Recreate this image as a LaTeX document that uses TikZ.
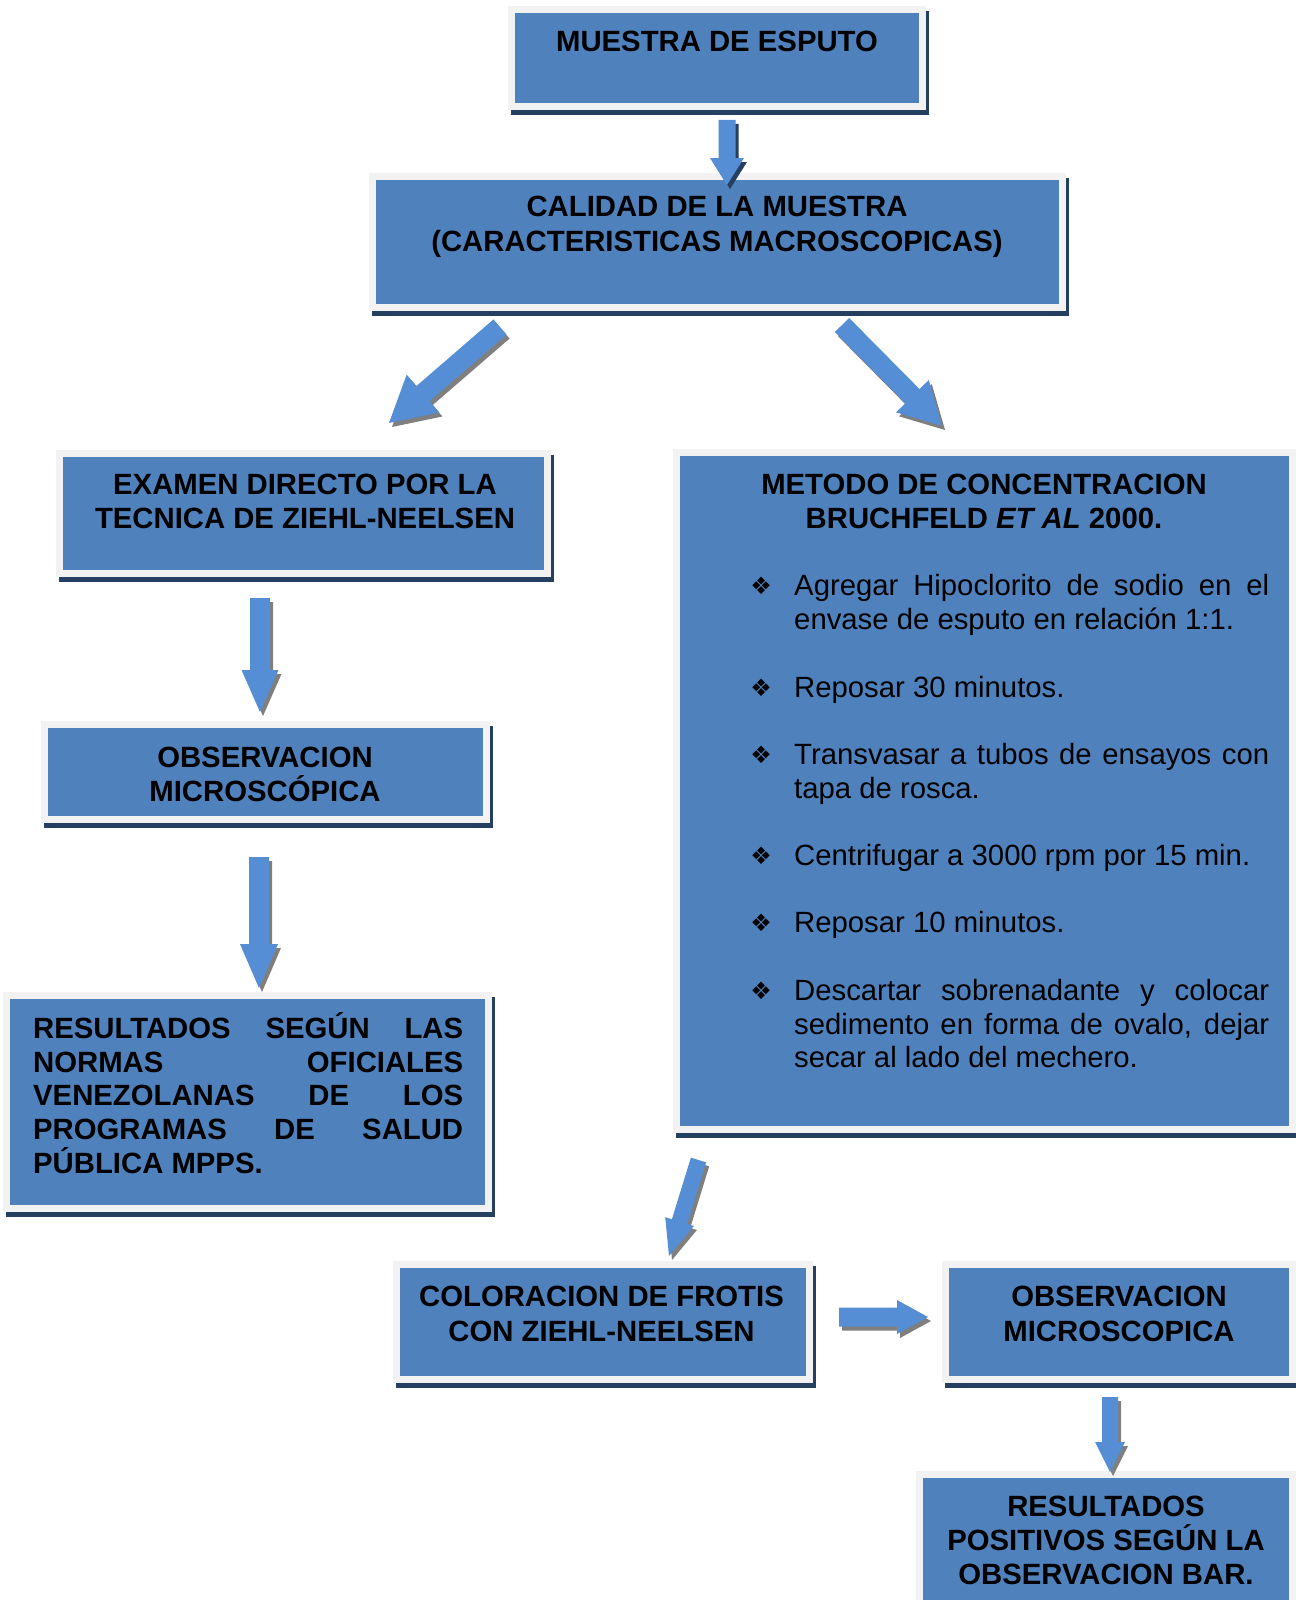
\documentclass[tikz,border=0pt]{standalone}
\usepackage{fontspec}
\setmainfont{Liberation Sans}
\newfontfamily\symf{DejaVu Sans}
\usetikzlibrary{calc}
\definecolor{boxblue}{HTML}{4F81BD}
\definecolor{framegray}{HTML}{F2F2F2}
\definecolor{shadowblue}{HTML}{243F60}
\definecolor{arrowblue}{HTML}{558ED5}
\definecolor{arrowshadow}{HTML}{7F7F7F}
\newcommand\hdfont{\fontsize{29.3}{34}\selectfont\bfseries}
\newcommand\bdfont{\fontsize{29.3}{34}\selectfont}
\newcommand\barrowpath[6]{%
  \path ($(#2)!#5pt!(#1)$) coordinate (bah);
  \fill[#6] ($(#1)!#3pt!90:(#2)$) -- ($(bah)!#3pt!90:(#2)$) -- ($(bah)!#4pt!90:(#2)$) -- (#2)
    -- ($(bah)!#4pt!-90:(#2)$) -- ($(bah)!#3pt!-90:(#2)$) -- ($(#1)!#3pt!-90:(#2)$) -- cycle;}
\newcommand\blockarrow[6]{%
  \path ($(#1)+(3,4)$) coordinate (bas1) ($(#2)+(3,4)$) coordinate (bas2);
  \barrowpath{bas1}{bas2}{#3}{#4}{#5}{#6}%
  \barrowpath{#1}{#2}{#3}{#4}{#5}{arrowblue}}
\tikzset{
  pbox/.style={rectangle, fill=boxblue, draw=framegray, line width=7pt, inner sep=0pt,
    preaction={draw=shadowblue, fill=shadowblue, line width=7pt, transform canvas={shift={(3pt,-5pt)}}}},
  hd/.style={inner sep=0pt, font=\hdfont, anchor=base},
  bd/.style={inner sep=0pt, font=\bdfont, anchor=base west},
  hj/.style={inner sep=0pt, font=\hdfont, anchor=base west},
  bul/.style={inner sep=0pt, font=\symf\fontsize{24}{24}\selectfont, anchor=center}
}
\begin{document}
\begin{tikzpicture}[x=1pt,y=-1pt]
\useasboundingbox[fill=white] (0,0) rectangle (1295,1600);

% boxes
\node[pbox, minimum width=411pt, minimum height=97pt] (b1) at (717,58) {};
\node[pbox, minimum width=690pt, minimum height=131pt] (b2) at (717.5,242) {};
\node[pbox, minimum width=488pt, minimum height=120pt] (b3) at (303.5,513.5) {};
\node[pbox, minimum width=616pt, minimum height=677pt] (b4) at (984.5,791) {};
\node[pbox, minimum width=442pt, minimum height=95pt] (b5) at (265.5,772) {};
\node[pbox, minimum width=482pt, minimum height=213pt] (b6) at (247.5,1102) {};
\node[pbox, minimum width=413pt, minimum height=115pt] (b7) at (603,1322) {};
\node[pbox, minimum width=347pt, minimum height=115pt] (b8) at (1119,1322) {};
\node[pbox, minimum width=373pt, minimum height=134pt] (b9) at (1106,1541.5) {};

% headings
\node[hd] (t1) at (717,52) {MUESTRA DE ESPUTO};
\node[hd] (t2a) at (717,216.5) {CALIDAD DE LA MUESTRA};
\node[hd] (t2b) at (717,251) {(CARACTERISTICAS MACROSCOPICAS)};
\node[hd] (t3a) at (305,494.5) {EXAMEN DIRECTO POR LA};
\node[hd] (t3b) at (305,528.5) {TECNICA DE ZIEHL-NEELSEN};
\node[hd] (t4a) at (984,494.5) {METODO DE CONCENTRACION};
\node[hd] (t4b) at (984,528.5) {BRUCHFELD \textit{ET AL} 2000.};
\node[hd] (t5a) at (265,767) {OBSERVACION};
\node[hd] (t5b) at (265,801) {MICROSCÓPICA};
\node[hj] (t6a) at (33,1038) {\makebox[430pt][s]{RESULTADOS SEGÚN LAS}};
\node[hj] (t6b) at (33,1072) {\makebox[430pt][s]{NORMAS OFICIALES}};
\node[hj] (t6c) at (33,1105) {\makebox[430pt][s]{VENEZOLANAS DE LOS}};
\node[hj] (t6d) at (33,1139) {\makebox[430pt][s]{PROGRAMAS DE SALUD}};
\node[hj] (t6e) at (33,1173) {PÚBLICA MPPS.};
\node[hd] (t7a) at (601.5,1306.5) {COLORACION DE FROTIS};
\node[hd] (t7b) at (601.5,1341) {CON ZIEHL-NEELSEN};
\node[hd] (t8a) at (1119,1306.5) {OBSERVACION};
\node[hd] (t8b) at (1119,1341) {MICROSCOPICA};
\node[hd] (t9a) at (1106,1516.5) {RESULTADOS};
\node[hd] (t9b) at (1106,1550.5) {POSITIVOS SEGÚN LA};
\node[hd] (t9c) at (1106,1584.5) {OBSERVACION BAR.};

% bullet list
\node[bul] (u1) at (761,586) {❖};
\node[bd] (l1a) at (794,595) {\makebox[475pt][s]{Agregar Hipoclorito de sodio en el}};
\node[bd] (l1b) at (794,629) {envase de esputo en relación 1:1.};
\node[bul] (u2) at (761,688) {❖};
\node[bd] (l2a) at (794,697) {Reposar 30 minutos.};
\node[bul] (u3) at (761,755) {❖};
\node[bd] (l3a) at (794,764) {\makebox[475pt][s]{Transvasar  a tubos de ensayos con}};
\node[bd] (l3b) at (794,798) {tapa de rosca.};
\node[bul] (u4) at (761,856) {❖};
\node[bd] (l4a) at (794,865) {Centrifugar a 3000 rpm por 15 min.};
\node[bul] (u5) at (761,923) {❖};
\node[bd] (l5a) at (794,932) {Reposar 10 minutos.};
\node[bul] (u6) at (761,991) {❖};
\node[bd] (l6a) at (794,1000) {\makebox[475pt][s]{Descartar sobrenadante y colocar}};
\node[bd] (l6b) at (794,1034) {\makebox[475pt][s]{sedimento en forma de ovalo, dejar}};
\node[bd] (l6c) at (794,1067) {secar al lado del mechero.};

% arrows
\coordinate (a1s) at (727,120);   \coordinate (a1e) at (727,185);
\coordinate (a2s) at (500,327);   \coordinate (a2e) at (389,423);
\coordinate (a3s) at (842,325);   \coordinate (a3e) at (942,426);
\coordinate (a4s) at (260,598);   \coordinate (a4e) at (260,712);
\coordinate (a5s) at (259,857);   \coordinate (a5e) at (259,988);
\coordinate (a6s) at (698.5,1160); \coordinate (a6e) at (669,1256);
\coordinate (a7s) at (839,1317);  \coordinate (a7e) at (928,1317);
\coordinate (a8s) at (1110,1397); \coordinate (a8e) at (1110,1472);

\blockarrow{a1s}{a1e}{8.5}{17}{27}{shadowblue}
\blockarrow{a2s}{a2e}{10}{25}{45}{arrowshadow}
\blockarrow{a3s}{a3e}{10}{23}{42}{arrowshadow}
\blockarrow{a4s}{a4e}{10}{18.5}{42}{arrowshadow}
\blockarrow{a5s}{a5e}{10}{19}{44}{arrowshadow}
\blockarrow{a6s}{a6e}{8}{15}{36}{arrowshadow}
\blockarrow{a7s}{a7e}{9.5}{17}{31}{arrowshadow}
\blockarrow{a8s}{a8e}{8}{15}{30}{arrowshadow}
\end{tikzpicture}
\end{document}
